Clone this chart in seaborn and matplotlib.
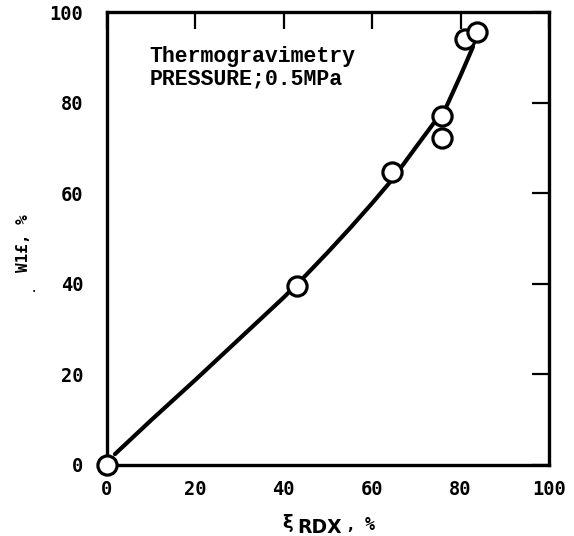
import matplotlib
matplotlib.use("Agg")
import matplotlib.pyplot as plt
import seaborn as sns
import pandas as pd

# Measured points: RDX conversion vs. weight loss fraction
xi_rdx = [0.0, 43.0, 64.5, 75.7, 75.7, 81.0, 83.7]
w_loss = [0.0, 39.5, 64.7, 77.0, 72.2, 94.0, 95.6]

# Fitted trend curve through the data
curve_x = [1.8, 10.0, 20.0, 30.0, 40.0, 45.0, 50.0, 55.0, 60.0, 64.0, 67.0, 70.0, 73.8, 75.8, 76.6, 80.0, 82.8]
curve_y = [2.4, 9.9, 18.8, 27.9, 37.0, 41.9, 47.0, 52.3, 57.8, 62.4, 66.3, 70.3, 75.3, 77.5, 78.7, 86.0, 92.3]

ticks = [0, 20, 40, 60, 80, 100]

sns.set_theme(style="white")
plt.rcParams["font.family"] = ["DejaVu Sans Mono", "DejaVu Sans"]
plt.rcParams["text.color"] = "black"
plt.rcParams["axes.labelcolor"] = "black"
plt.rcParams["xtick.color"] = "black"
plt.rcParams["ytick.color"] = "black"

fig = plt.figure(figsize=(5.74, 5.36), dpi=100)
ax = fig.add_axes([0.1864, 0.1325, 0.7700, 0.8451])

pts = pd.DataFrame({"xi": xi_rdx, "w": w_loss})
fit = pd.DataFrame({"xi": curve_x, "w": curve_y})

sns.lineplot(data=fit, x="xi", y="w", sort=False, estimator=None,
             color="black", linewidth=3.0, ax=ax, zorder=2)
sns.scatterplot(data=pts, x="xi", y="w", marker="o", s=190,
                facecolor="white", edgecolor="black", linewidth=2.3,
                ax=ax, zorder=3, clip_on=False)

ax.set_xlim(0, 100)
ax.set_ylim(0, 100)
ax.set_xticks(ticks)
ax.set_yticks(ticks)
ax.set_xticklabels([str(t) for t in ticks], fontsize=13.5, fontweight="bold")
ax.set_yticklabels([str(t) for t in ticks], fontsize=13.5, fontweight="bold")
ax.tick_params(axis="both", direction="in", length=12, width=1.6,
               top=True, right=True, colors="black")
ax.tick_params(axis="x", pad=11)
ax.tick_params(axis="y", pad=17)

for sp in ax.spines.values():
    sp.set_linewidth(2.4)
    sp.set_color("black")

ax.set_xlabel("")
ax.set_ylabel("W1£, %", fontsize=11.5, fontweight="bold", color="black")
ax.yaxis.set_label_coords(-0.172, 0.49)

# x-axis label built from pieces: xi with a full-size RDX subscript
W, H = 574, 536
fig.text(282 / W, 1 - 523 / H, "ξ", fontsize=13, fontweight="bold",
         family="DejaVu Sans", ha="left", va="center")
fig.text(297 / W, 1 - 533 / H, "RDX", fontsize=13.5, fontweight="bold",
         family="DejaVu Sans", ha="left", va="baseline")
fig.text(347 / W, 1 - 530 / H, ",", fontsize=11, fontweight="bold",
         family="DejaVu Sans", ha="left", va="baseline")
fig.text(365 / W, 1 - 530 / H, "%", fontsize=12, fontweight="bold",
         family="DejaVu Sans Mono", ha="left", va="baseline")

fig.text(34 / W, 1 - 292 / H, "•", fontsize=5, ha="center", va="center")

ax.text(9.7, 89.0, "Thermogravimetry", family="Liberation Mono",
        fontsize=15.5, fontweight="bold", va="baseline", ha="left", color="black")
ax.text(9.7, 84.1, "PRESSURE;0.5MPa", family="Liberation Mono",
        fontsize=15.5, fontweight="bold", va="baseline", ha="left", color="black")

fig.savefig("out.png", dpi=100)
